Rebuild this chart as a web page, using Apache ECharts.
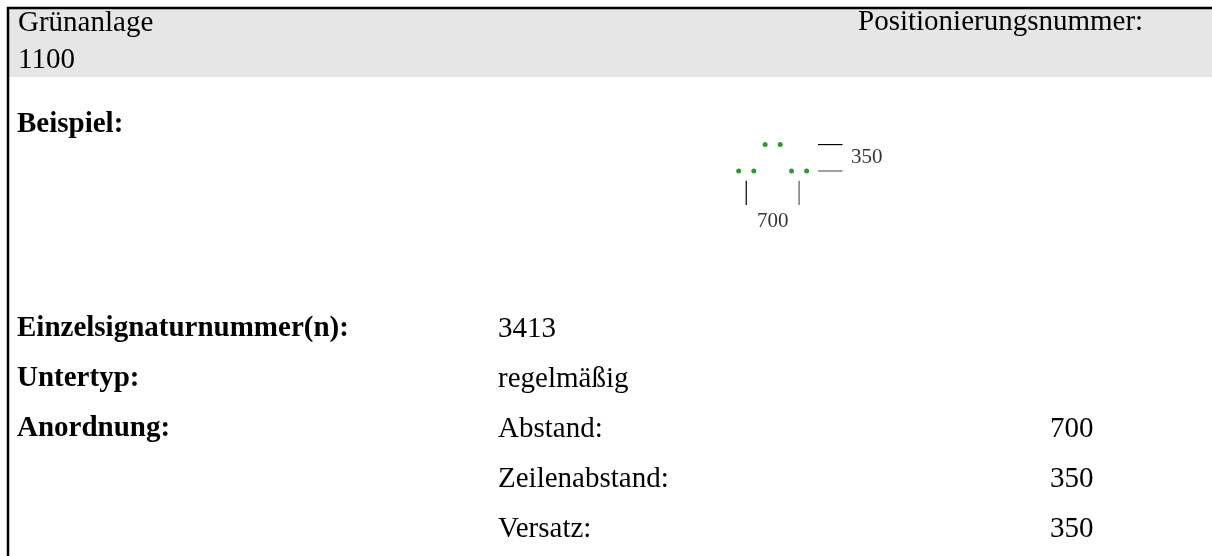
<!DOCTYPE html>
<html>
<head>
<meta charset="utf-8">
<script src="https://cdn.jsdelivr.net/npm/echarts@6/dist/echarts.min.js"></script>
<style>
html,body{margin:0;padding:0;background:#fff;}
#c{width:1212px;height:556px;}
</style>
</head>
<body>
<div id="c"></div>
<script>
// ---- data ----
const headerTitle = 'Grünanlage';
const headerNumber = '1100';
const headerRight = 'Positionierungsnummer:';
const exampleLabel = 'Beispiel:';
const fieldLabels = ['Einzelsignaturnummer(n):', 'Untertyp:', 'Anordnung:', '', ''];
const fieldValues = ['3413', 'regelmäßig', 'Abstand:', 'Zeilenabstand:', 'Versatz:'];
const arrangementValues = ['', '', '700', '350', '350'];
// example: signature dots (units), two rows offset by 350, spacing 700
const exampleDots = [[0, 0], [200, 0], [700, 0], [900, 0], [350, 350], [550, 350]];
const dimHorizontal = [[[1050, 350], [1375, 350]], [[1050, 0], [1375, 0]]];
const dimVertical = [[[100, -130], [100, -450]], [[800, -130], [800, -450]]];
const dimLabels = [[1487, 179, '350'], [450, -665, '700']];

// ---- layout ----
const FONT = '"Liberation Serif", "Times New Roman", serif';
const FS = 29;
const rowY = [329, 379, 429, 479, 529];
const colX = [17, 498, 1050];

const chart = echarts.init(document.getElementById('c'), null, {renderer: 'canvas'});

function txt(x, y, s, bold) {
  return {
    type: 'text', x: x, y: y, z: 10,
    style: {text: s, fill: '#000', font: (bold ? 'bold ' : '') + FS + 'px ' + FONT,
            align: 'left', verticalAlign: 'middle'}
  };
}

const graphics = [
  {type: 'rect', shape: {x: 9, y: 9, width: 1203, height: 68}, style: {fill: '#e6e6e6'}, z: 1},
  {type: 'line', shape: {x1: 7, y1: 8, x2: 1212, y2: 8}, style: {stroke: '#000', lineWidth: 2.5}, z: 2},
  {type: 'line', shape: {x1: 8, y1: 7, x2: 8, y2: 556}, style: {stroke: '#000', lineWidth: 2.5}, z: 2},
  txt(18, 23, headerTitle, false),
  txt(18, 60, headerNumber, false),
  txt(858, 22, headerRight, false),
  txt(colX[0], 125, exampleLabel, true)
];
fieldLabels.forEach((s, i) => { if (s) graphics.push(txt(colX[0], rowY[i], s, true)); });
fieldValues.forEach((s, i) => { if (s) graphics.push(txt(colX[1], rowY[i], s, false)); });
arrangementValues.forEach((s, i) => { if (s) graphics.push(txt(colX[2], rowY[i], s, false)); });

const k = 0.0755;
const series = [];
const lineColors = ['#000', '#808080'];
const lineWidths = [1.2, 1.6];
dimHorizontal.forEach((seg, i) => series.push({
  type: 'line', data: seg, symbol: 'none', silent: true,
  lineStyle: {color: lineColors[i], width: lineWidths[i]}
}));
dimVertical.forEach((seg, i) => series.push({
  type: 'line', data: seg, symbol: 'none', silent: true,
  lineStyle: {color: lineColors[i], width: lineWidths[i]}
}));
series.push({
  type: 'scatter', data: exampleDots, symbol: 'circle', symbolSize: 5,
  itemStyle: {color: '#007a00'}, silent: true
});
series.push({
  type: 'scatter', data: dimLabels.map(d => ({value: [d[0], d[1]], name: d[2]})),
  symbolSize: 0, silent: true, itemStyle: {color: 'transparent'},
  label: {show: true, position: 'right', distance: 0, formatter: p => p.name,
          fontFamily: FONT, fontSize: 21, color: '#000', textBorderWidth: 0}
});
series[series.length - 1].data[1].label = {position: 'inside'};

chart.setOption({
  animation: false,
  backgroundColor: '#fff',
  grid: {left: 738.7 - 200 * k, top: 171 - 600 * k, width: 2200 * k, height: 1400 * k, containLabel: false},
  xAxis: {type: 'value', min: -200, max: 2000, show: false},
  yAxis: {type: 'value', min: -800, max: 600, show: false},
  graphic: graphics,
  series: series
});
</script>
</body>
</html>
